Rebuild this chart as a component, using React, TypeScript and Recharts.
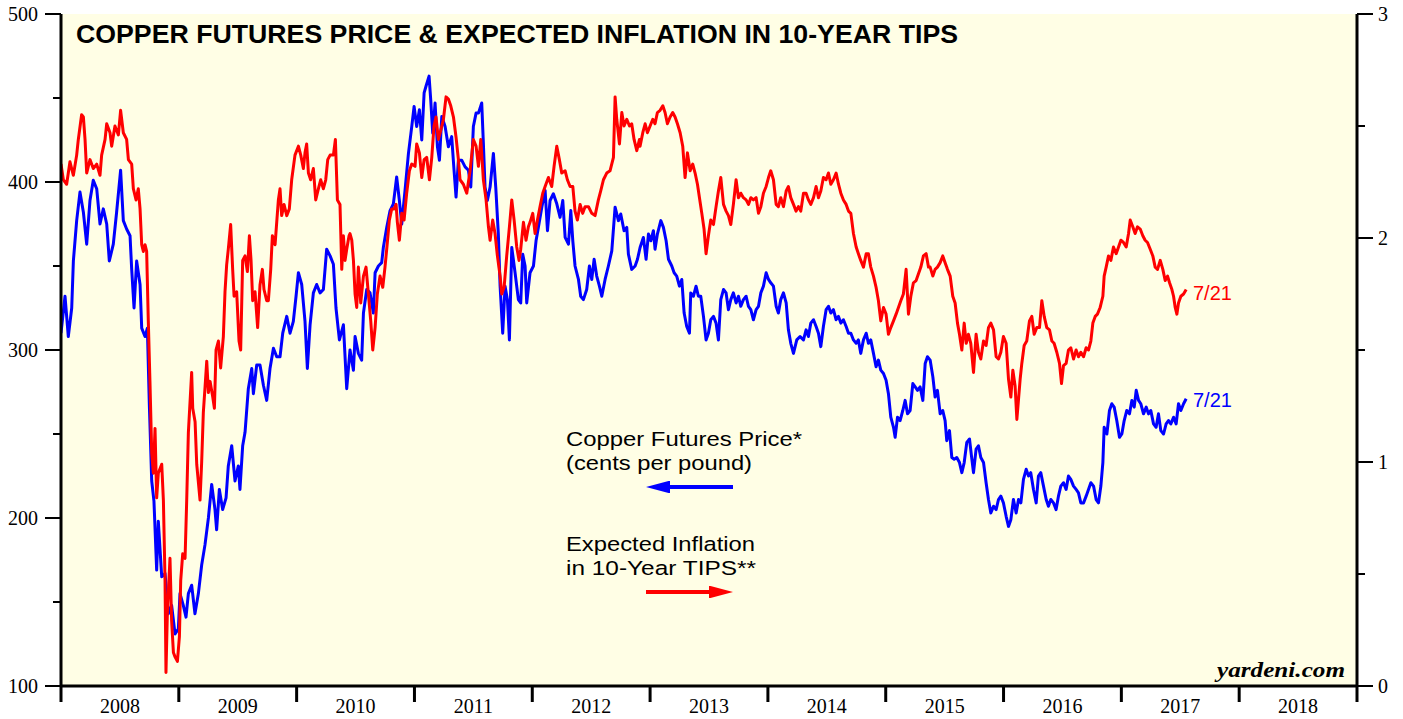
import { LineChart, Line, XAxis, YAxis, CartesianGrid } from 'recharts'

// decimal year, cents per pound
const copper2008 = [
  [2008.000, 310], [2008.034, 332], [2008.062, 308], [2008.091, 325], [2008.105, 353], [2008.133, 377],
  [2008.161, 394], [2008.190, 382], [2008.218, 363], [2008.246, 389], [2008.274, 401], [2008.303, 396],
  [2008.331, 375], [2008.359, 384], [2008.388, 375], [2008.410, 353], [2008.444, 363], [2008.472, 382],
  [2008.506, 407], [2008.529, 377], [2008.557, 372], [2008.586, 368], [2008.600, 348], [2008.620, 325],
  [2008.642, 353], [2008.671, 339], [2008.685, 313], [2008.713, 308], [2008.733, 313], [2008.750, 267],
  [2008.770, 222], [2008.789, 210], [2008.812, 169], [2008.826, 198], [2008.855, 165], [2008.883, 167],
  [2008.911, 143], [2008.939, 148], [2008.968, 131], [2008.996, 134], [2009.010, 155], [2009.038, 148],
  [2009.061, 141], [2009.081, 155], [2009.109, 160], [2009.137, 143], [2009.166, 155], [2009.194, 172],
  [2009.222, 184], [2009.251, 200], [2009.279, 220], [2009.307, 205], [2009.321, 193], [2009.344, 217],
  [2009.372, 205], [2009.401, 212], [2009.420, 231], [2009.449, 243], [2009.477, 222], [2009.505, 231],
  [2009.519, 217], [2009.542, 243], [2009.562, 251], [2009.590, 277], [2009.619, 289], [2009.633, 274],
  [2009.661, 291], [2009.689, 291], [2009.718, 279], [2009.746, 270], [2009.774, 289], [2009.803, 301],
  [2009.831, 296], [2009.859, 296], [2009.882, 310], [2009.916, 320], [2009.944, 310], [2009.972, 317],
  [2009.995, 332], [2010.015, 346], [2010.043, 339], [2010.071, 317], [2010.091, 289], [2010.114, 315],
  [2010.142, 334], [2010.170, 339], [2010.199, 334], [2010.227, 336], [2010.255, 360], [2010.284, 356],
  [2010.312, 351], [2010.334, 325], [2010.363, 306], [2010.397, 315], [2010.425, 277],
]

const copper2010 = [
  [2010.453, 300], [2010.482, 288], [2010.496, 308], [2010.524, 298], [2010.552, 294], [2010.567, 322],
  [2010.595, 336], [2010.623, 334], [2010.651, 322], [2010.666, 346], [2010.694, 350], [2010.722, 352],
  [2010.736, 361], [2010.765, 373], [2010.793, 383], [2010.821, 387], [2010.849, 403], [2010.872, 389],
  [2010.892, 375], [2010.920, 395], [2010.949, 417], [2010.977, 433], [2010.997, 445], [2011.019, 433],
  [2011.042, 443], [2011.062, 425], [2011.082, 453], [2011.098, 457], [2011.124, 463], [2011.138, 449],
  [2011.155, 429], [2011.175, 447], [2011.195, 421], [2011.212, 413], [2011.232, 439], [2011.260, 433],
  [2011.288, 421], [2011.316, 427], [2011.336, 407], [2011.353, 391], [2011.373, 413], [2011.401, 413],
  [2011.430, 409], [2011.458, 407], [2011.478, 397], [2011.500, 433], [2011.523, 441], [2011.543, 441],
  [2011.571, 447], [2011.585, 423], [2011.599, 397], [2011.619, 389], [2011.642, 397], [2011.670, 417],
  [2011.690, 397], [2011.712, 369], [2011.727, 338], [2011.749, 310], [2011.769, 338], [2011.789, 330],
  [2011.806, 306], [2011.826, 361], [2011.854, 346], [2011.882, 330], [2011.902, 328], [2011.919, 357],
  [2011.939, 350], [2011.953, 328], [2011.981, 346], [2012.010, 350], [2012.032, 365], [2012.052, 373],
  [2012.081, 385], [2012.109, 395], [2012.129, 371], [2012.151, 389], [2012.179, 393], [2012.208, 387],
  [2012.236, 379], [2012.259, 389], [2012.279, 367], [2012.307, 363], [2012.327, 383], [2012.344, 365],
  [2012.363, 350], [2012.392, 342], [2012.411, 332], [2012.434, 330], [2012.462, 336], [2012.485, 350],
  [2012.505, 342], [2012.525, 354], [2012.547, 344], [2012.570, 338], [2012.590, 332], [2012.618, 342],
  [2012.646, 350], [2012.675, 359], [2012.703, 385], [2012.731, 377], [2012.751, 381], [2012.779, 371],
  [2012.802, 373], [2012.816, 357], [2012.844, 348], [2012.873, 350], [2012.893, 354],
]

const copper2013 = [
  [2012.915, 361], [2012.943, 367], [2012.966, 354], [2012.986, 369], [2013.006, 365], [2013.028, 371],
  [2013.042, 360], [2013.062, 369], [2013.091, 377], [2013.113, 373], [2013.136, 365], [2013.156, 354],
  [2013.184, 350], [2013.204, 346], [2013.226, 344], [2013.249, 338], [2013.269, 342], [2013.289, 322],
  [2013.311, 314], [2013.334, 310], [2013.345, 334], [2013.368, 332], [2013.390, 338], [2013.410, 332],
  [2013.430, 332], [2013.453, 320], [2013.475, 306], [2013.495, 310], [2013.515, 318], [2013.538, 320],
  [2013.560, 316], [2013.580, 306], [2013.600, 330], [2013.623, 336], [2013.645, 334], [2013.665, 324],
  [2013.685, 330], [2013.707, 334], [2013.730, 328], [2013.750, 332], [2013.770, 326], [2013.792, 330],
  [2013.815, 332], [2013.835, 326], [2013.855, 324], [2013.877, 318], [2013.900, 324], [2013.920, 326],
  [2013.940, 334], [2013.962, 338], [2013.985, 346], [2014.005, 342], [2014.024, 340], [2014.047, 338],
  [2014.070, 326], [2014.089, 322], [2014.109, 330], [2014.132, 334], [2014.155, 328], [2014.174, 312],
  [2014.194, 304], [2014.217, 298], [2014.245, 306], [2014.273, 308], [2014.302, 306], [2014.324, 312],
  [2014.344, 308], [2014.364, 316], [2014.387, 318], [2014.409, 314], [2014.429, 310], [2014.449, 302],
  [2014.471, 314], [2014.494, 324], [2014.514, 326], [2014.534, 322], [2014.556, 324], [2014.579, 318],
  [2014.599, 320], [2014.619, 316], [2014.641, 318], [2014.664, 314], [2014.684, 310], [2014.704, 310],
  [2014.726, 306], [2014.749, 304], [2014.768, 306], [2014.788, 298], [2014.811, 306], [2014.834, 310],
  [2014.853, 304], [2014.873, 306], [2014.896, 298], [2014.918, 290], [2014.938, 294], [2014.958, 288],
  [2014.981, 286], [2015.003, 282], [2015.023, 274], [2015.043, 260], [2015.066, 254], [2015.080, 248],
  [2015.100, 260], [2015.122, 258], [2015.145, 264], [2015.165, 270], [2015.185, 262], [2015.207, 264],
  [2015.230, 280], [2015.250, 278], [2015.270, 276], [2015.292, 278], [2015.315, 270], [2015.335, 292],
  [2015.354, 296],
]

const copper2015 = [
  [2015.377, 294], [2015.400, 284], [2015.419, 272], [2015.439, 276], [2015.462, 262], [2015.484, 264],
  [2015.504, 258], [2015.518, 246], [2015.541, 252], [2015.561, 236], [2015.581, 235], [2015.603, 236],
  [2015.626, 233], [2015.646, 227], [2015.666, 233], [2015.688, 245], [2015.711, 247], [2015.731, 235],
  [2015.745, 227], [2015.767, 241], [2015.787, 243], [2015.807, 236], [2015.830, 233], [2015.852, 221],
  [2015.872, 211], [2015.892, 203], [2015.915, 207], [2015.937, 205], [2015.957, 211], [2015.977, 213],
  [2015.999, 209], [2016.022, 201], [2016.042, 195], [2016.062, 199], [2016.084, 211], [2016.107, 203],
  [2016.127, 211], [2016.147, 209], [2016.169, 223], [2016.192, 229], [2016.212, 225], [2016.231, 227],
  [2016.254, 217], [2016.277, 209], [2016.296, 225], [2016.316, 227], [2016.339, 219], [2016.362, 211],
  [2016.381, 207], [2016.401, 211], [2016.424, 209], [2016.446, 205], [2016.466, 213], [2016.486, 219],
  [2016.509, 221], [2016.531, 217], [2016.551, 225], [2016.571, 223], [2016.594, 219], [2016.616, 217],
  [2016.636, 215], [2016.656, 209], [2016.679, 209], [2016.701, 213], [2016.721, 217], [2016.741, 221],
  [2016.764, 219], [2016.786, 211], [2016.806, 209], [2016.826, 219], [2016.843, 233], [2016.854, 254],
  [2016.877, 250], [2016.899, 264], [2016.919, 268], [2016.939, 266], [2016.961, 258], [2016.984, 248],
  [2017.004, 250], [2017.024, 258], [2017.046, 264], [2017.069, 262], [2017.089, 270], [2017.109, 266],
  [2017.126, 276], [2017.146, 270], [2017.165, 268], [2017.188, 262], [2017.211, 266], [2017.230, 262],
  [2017.250, 264], [2017.273, 256], [2017.295, 254], [2017.315, 262], [2017.335, 252], [2017.358, 250],
  [2017.380, 256], [2017.400, 258], [2017.420, 256], [2017.443, 260], [2017.465, 256], [2017.485, 268],
  [2017.505, 264], [2017.528, 268], [2017.550, 271],
]

// decimal year, percent
const tips2008 = [
  [2008.000, 2.33], [2008.020, 2.26], [2008.048, 2.24], [2008.062, 2.29], [2008.076, 2.34], [2008.105, 2.28],
  [2008.133, 2.37], [2008.147, 2.44], [2008.175, 2.55], [2008.190, 2.54], [2008.204, 2.44], [2008.218, 2.29],
  [2008.246, 2.35], [2008.274, 2.31], [2008.303, 2.33], [2008.331, 2.28], [2008.345, 2.37], [2008.374, 2.44],
  [2008.388, 2.51], [2008.416, 2.47], [2008.430, 2.41], [2008.458, 2.50], [2008.487, 2.46], [2008.506, 2.57],
  [2008.529, 2.47], [2008.557, 2.44], [2008.572, 2.35], [2008.600, 2.33], [2008.614, 2.22], [2008.637, 2.17],
  [2008.656, 2.22], [2008.671, 2.13], [2008.685, 1.97], [2008.699, 1.94], [2008.713, 1.97], [2008.727, 1.94],
  [2008.741, 1.63], [2008.755, 1.36], [2008.770, 1.04], [2008.784, 0.95], [2008.798, 1.15], [2008.812, 0.84],
  [2008.826, 0.95], [2008.840, 0.97], [2008.855, 0.99], [2008.869, 0.83], [2008.883, 0.47], [2008.891, 0.06],
  [2008.903, 0.33], [2008.925, 0.57], [2008.939, 0.29], [2008.954, 0.15], [2008.968, 0.13], [2008.988, 0.11],
  [2009.005, 0.22], [2009.016, 0.47], [2009.033, 0.59], [2009.053, 0.57], [2009.067, 0.83], [2009.081, 1.13],
  [2009.109, 1.40], [2009.118, 1.24], [2009.138, 1.18], [2009.152, 0.99], [2009.180, 0.83], [2009.194, 1.00],
  [2009.208, 1.22], [2009.222, 1.33], [2009.237, 1.45], [2009.251, 1.31], [2009.265, 1.36], [2009.288, 1.29],
  [2009.302, 1.24], [2009.316, 1.50], [2009.336, 1.54], [2009.355, 1.42], [2009.378, 1.56], [2009.392, 1.76],
  [2009.406, 1.88], [2009.420, 1.95], [2009.440, 2.06], [2009.457, 1.86], [2009.469, 1.74], [2009.491, 1.76],
  [2009.511, 1.54], [2009.525, 1.50], [2009.542, 1.90], [2009.562, 1.92], [2009.582, 1.85], [2009.599, 2.01],
  [2009.613, 1.90], [2009.627, 1.72], [2009.647, 1.76], [2009.669, 1.60], [2009.689, 1.79], [2009.709, 1.86],
  [2009.723, 1.77], [2009.746, 1.72], [2009.760, 1.72], [2009.780, 1.86], [2009.794, 2.01], [2009.817, 1.97],
  [2009.845, 2.17], [2009.859, 2.22], [2009.873, 2.10], [2009.893, 2.15], [2009.916, 2.10], [2009.938, 2.13],
  [2009.958, 2.26], [2009.986, 2.37], [2010.015, 2.41], [2010.035, 2.37], [2010.057, 2.31], [2010.071, 2.38],
  [2010.085, 2.42], [2010.100, 2.29], [2010.119, 2.26], [2010.142, 2.31], [2010.162, 2.17], [2010.185, 2.22],
  [2010.204, 2.26], [2010.227, 2.22], [2010.247, 2.26], [2010.264, 2.35], [2010.284, 2.37], [2010.312, 2.37],
  [2010.329, 2.44], [2010.346, 2.17], [2010.368, 2.15], [2010.383, 1.86], [2010.397, 2.01], [2010.411, 1.90],
  [2010.425, 1.95], [2010.445, 2.01],
]

const tips2010 = [
  [2010.453, 2.02], [2010.468, 1.99], [2010.482, 1.90], [2010.496, 1.75], [2010.510, 1.69], [2010.524, 1.87],
  [2010.544, 1.71], [2010.567, 1.83], [2010.589, 1.87], [2010.609, 1.75], [2010.629, 1.63], [2010.646, 1.50],
  [2010.666, 1.60], [2010.685, 1.75], [2010.708, 1.83], [2010.731, 1.78], [2010.750, 1.87], [2010.770, 1.98],
  [2010.787, 2.08], [2010.807, 2.13], [2010.827, 2.13], [2010.844, 2.15], [2010.855, 2.07], [2010.872, 1.99],
  [2010.892, 2.11], [2010.912, 2.08], [2010.934, 2.20], [2010.957, 2.30], [2010.977, 2.33], [2011.005, 2.32],
  [2011.019, 2.42], [2011.042, 2.38], [2011.062, 2.27], [2011.082, 2.35], [2011.104, 2.36], [2011.127, 2.26],
  [2011.147, 2.36], [2011.166, 2.50], [2011.183, 2.54], [2011.203, 2.44], [2011.223, 2.48], [2011.246, 2.53],
  [2011.268, 2.63], [2011.288, 2.62], [2011.308, 2.59], [2011.331, 2.54], [2011.353, 2.45], [2011.373, 2.35],
  [2011.387, 2.26], [2011.415, 2.24], [2011.444, 2.20], [2011.472, 2.30], [2011.500, 2.44], [2011.523, 2.41],
  [2011.543, 2.32], [2011.563, 2.44], [2011.585, 2.26], [2011.608, 2.17], [2011.628, 2.05], [2011.642, 1.99],
  [2011.664, 2.08], [2011.684, 2.02], [2011.704, 1.92], [2011.727, 1.83], [2011.741, 1.75], [2011.761, 1.78],
  [2011.783, 1.92], [2011.806, 2.05], [2011.826, 2.17], [2011.846, 2.08], [2011.868, 1.96], [2011.888, 1.90],
  [2011.902, 1.95], [2011.925, 2.07], [2011.947, 1.99], [2011.967, 2.05], [2011.981, 2.07], [2012.004, 2.11],
  [2012.024, 2.02], [2012.044, 2.08], [2012.066, 2.14], [2012.089, 2.20], [2012.109, 2.23], [2012.137, 2.27],
  [2012.165, 2.23], [2012.185, 2.32], [2012.208, 2.41], [2012.230, 2.35], [2012.250, 2.29], [2012.279, 2.30],
  [2012.298, 2.26], [2012.321, 2.23], [2012.344, 2.23], [2012.363, 2.12], [2012.383, 2.08], [2012.406, 2.15],
  [2012.428, 2.11], [2012.448, 2.14], [2012.477, 2.14], [2012.505, 2.11], [2012.533, 2.10], [2012.561, 2.17],
  [2012.581, 2.21], [2012.604, 2.26], [2012.632, 2.29], [2012.660, 2.30], [2012.689, 2.36], [2012.703, 2.63],
  [2012.717, 2.53], [2012.740, 2.42], [2012.760, 2.56], [2012.779, 2.50], [2012.802, 2.53], [2012.825, 2.50],
  [2012.844, 2.51], [2012.864, 2.44], [2012.887, 2.39], [2012.910, 2.44],
]

const tips2013 = [
  [2012.915, 2.41], [2012.938, 2.47], [2012.958, 2.51], [2012.977, 2.47], [2013.000, 2.50], [2013.023, 2.53],
  [2013.042, 2.51], [2013.062, 2.56], [2013.085, 2.57], [2013.108, 2.59], [2013.127, 2.56], [2013.147, 2.51],
  [2013.170, 2.54], [2013.192, 2.56], [2013.212, 2.54], [2013.232, 2.51], [2013.255, 2.47], [2013.277, 2.41],
  [2013.297, 2.27], [2013.317, 2.38], [2013.340, 2.30], [2013.362, 2.33], [2013.382, 2.29], [2013.402, 2.24],
  [2013.419, 2.18], [2013.439, 2.11], [2013.458, 2.04], [2013.475, 1.93], [2013.495, 2.01], [2013.515, 2.08],
  [2013.538, 2.06], [2013.560, 2.14], [2013.580, 2.21], [2013.600, 2.27], [2013.623, 2.15], [2013.645, 2.12],
  [2013.665, 2.10], [2013.685, 2.06], [2013.707, 2.15], [2013.730, 2.26], [2013.750, 2.18], [2013.770, 2.20],
  [2013.792, 2.18], [2013.815, 2.17], [2013.835, 2.15], [2013.855, 2.18], [2013.877, 2.17], [2013.900, 2.18],
  [2013.920, 2.11], [2013.940, 2.14], [2013.962, 2.20], [2013.985, 2.23], [2014.005, 2.27], [2014.024, 2.30],
  [2014.047, 2.26], [2014.070, 2.15], [2014.089, 2.14], [2014.109, 2.18], [2014.132, 2.14], [2014.155, 2.21],
  [2014.174, 2.23], [2014.194, 2.18], [2014.217, 2.15], [2014.239, 2.12], [2014.259, 2.14], [2014.279, 2.12],
  [2014.302, 2.20], [2014.324, 2.20], [2014.344, 2.17], [2014.364, 2.15], [2014.387, 2.18], [2014.409, 2.23],
  [2014.429, 2.18], [2014.449, 2.21], [2014.471, 2.27], [2014.494, 2.26], [2014.514, 2.29], [2014.534, 2.24],
  [2014.556, 2.26], [2014.579, 2.29], [2014.599, 2.24], [2014.619, 2.20], [2014.641, 2.17], [2014.664, 2.15],
  [2014.684, 2.12], [2014.704, 2.11], [2014.726, 2.02], [2014.749, 1.96], [2014.768, 1.93], [2014.788, 1.90],
  [2014.811, 1.87], [2014.834, 1.93], [2014.853, 1.93], [2014.873, 1.87], [2014.896, 1.83], [2014.918, 1.78],
  [2014.938, 1.72], [2014.958, 1.63], [2014.981, 1.69], [2015.003, 1.66], [2015.023, 1.57], [2015.043, 1.60],
  [2015.066, 1.63], [2015.088, 1.66], [2015.108, 1.69], [2015.128, 1.72], [2015.150, 1.75], [2015.173, 1.86],
  [2015.193, 1.66], [2015.213, 1.74], [2015.235, 1.80], [2015.258, 1.81], [2015.278, 1.84], [2015.298, 1.87],
  [2015.320, 1.92], [2015.343, 1.93], [2015.363, 1.87],
]

const tips2015 = [
  [2015.377, 1.87], [2015.400, 1.83], [2015.419, 1.86], [2015.439, 1.87], [2015.462, 1.89], [2015.484, 1.92],
  [2015.504, 1.89], [2015.524, 1.86], [2015.547, 1.83], [2015.569, 1.74], [2015.589, 1.71], [2015.609, 1.62],
  [2015.626, 1.57], [2015.646, 1.50], [2015.666, 1.62], [2015.683, 1.53], [2015.702, 1.57], [2015.722, 1.53],
  [2015.745, 1.40], [2015.767, 1.57], [2015.787, 1.49], [2015.807, 1.46], [2015.830, 1.54], [2015.852, 1.52],
  [2015.872, 1.60], [2015.892, 1.62], [2015.915, 1.59], [2015.937, 1.47], [2015.957, 1.46], [2015.977, 1.49],
  [2015.999, 1.56], [2016.022, 1.53], [2016.042, 1.37], [2016.062, 1.29], [2016.079, 1.41], [2016.098, 1.34],
  [2016.113, 1.19], [2016.127, 1.28], [2016.141, 1.37], [2016.155, 1.44], [2016.175, 1.52], [2016.197, 1.54],
  [2016.220, 1.63], [2016.240, 1.65], [2016.260, 1.57], [2016.282, 1.60], [2016.305, 1.60], [2016.325, 1.72],
  [2016.345, 1.65], [2016.367, 1.60], [2016.390, 1.59], [2016.410, 1.54], [2016.429, 1.53], [2016.452, 1.49],
  [2016.475, 1.44], [2016.492, 1.35], [2016.509, 1.43], [2016.531, 1.44], [2016.551, 1.50], [2016.571, 1.51],
  [2016.594, 1.46], [2016.616, 1.50], [2016.636, 1.47], [2016.656, 1.49], [2016.679, 1.47], [2016.701, 1.51],
  [2016.721, 1.50], [2016.741, 1.54], [2016.758, 1.62], [2016.778, 1.65], [2016.797, 1.66], [2016.820, 1.69],
  [2016.843, 1.74], [2016.854, 1.83], [2016.871, 1.87], [2016.891, 1.92], [2016.911, 1.90], [2016.933, 1.96],
  [2016.956, 1.93], [2016.976, 1.96], [2016.996, 1.99], [2017.018, 1.98], [2017.041, 1.96], [2017.061, 2.02],
  [2017.075, 2.08], [2017.097, 2.05], [2017.117, 2.02], [2017.137, 2.05], [2017.160, 2.04], [2017.182, 2.01],
  [2017.202, 1.99], [2017.222, 1.98], [2017.245, 1.95], [2017.267, 1.92], [2017.287, 1.87], [2017.307, 1.86],
  [2017.330, 1.90], [2017.352, 1.86], [2017.372, 1.81], [2017.392, 1.83], [2017.409, 1.80], [2017.429, 1.77],
  [2017.443, 1.74], [2017.457, 1.69], [2017.471, 1.66], [2017.485, 1.71], [2017.505, 1.74], [2017.528, 1.75],
  [2017.550, 1.77],
]

const years = [2008, 2009, 2010, 2011, 2012, 2013, 2014, 2015, 2016, 2017, 2018]
const leftTicks = [100, 150, 200, 250, 300, 350, 400, 450, 500]
const rightTicks = [0, 0.5, 1, 1.5, 2, 2.5, 3]

const toRows = (pts: number[][]) => pts.map(([t, v]) => ({ t, v }))
const copperRows = toRows([...copper2008, ...copper2010, ...copper2013, ...copper2015])
const tipsRows = toRows([...tips2008, ...tips2010, ...tips2013, ...tips2015])

// year boundaries get a tick mark, mid-years get the label
const xTicks = [...years.flatMap(y => [y, y + 0.5]), years[years.length - 1] + 1]

const SERIF = '"Liberation Serif", "Times New Roman", serif'
const SANS = '"Liberation Sans", Arial, Helvetica, sans-serif'
const BG = '#FFFEE5'

function YearTick({ x, y, payload }: any) {
  const v = payload.value
  if (Number.isInteger(v)) {
    return <line x1={x} x2={x} y1={y} y2={y + 16} stroke="#000" strokeWidth={3} />
  }
  return (
    <text x={x} y={y + 27} textAnchor="middle" fontFamily={SERIF} fontSize={20} fill="#000">
      {Math.floor(v)}
    </text>
  )
}

function LeftTick({ x, y, payload }: any) {
  const major = payload.value % 100 === 0
  return (
    <g>
      <line x1={x - (major ? 16 : 8)} x2={x} y1={y} y2={y} stroke="#000" strokeWidth={2} />
      {major && (
        <text x={x - 23} y={y + 7} textAnchor="end" fontFamily={SERIF} fontSize={20} fill="#000">
          {payload.value}
        </text>
      )}
    </g>
  )
}

function RightTick({ x, y, payload }: any) {
  const major = Number.isInteger(payload.value)
  return (
    <g>
      <line x1={x} x2={x + (major ? 16 : 8)} y1={y} y2={y} stroke="#000" strokeWidth={2} />
      {major && (
        <text x={x + 21} y={y + 7} textAnchor="start" fontFamily={SERIF} fontSize={20} fill="#000">
          {payload.value}
        </text>
      )}
    </g>
  )
}

const frame = { stroke: '#000', strokeWidth: 3 }

function Note({ y, w, children }: { y: number; w: number; children: string }) {
  return (
    <text x={566} y={y} fontFamily={SANS} fontSize={20.5} textLength={w} lengthAdjust="spacingAndGlyphs" fill="#000">
      {children}
    </text>
  )
}

export default function App() {
  return (
    <div style={{ position: 'absolute', left: 0, top: 0, width: 1403, height: 719, background: '#fff' }}>
      <LineChart width={1403} height={719} margin={{ top: 14, right: 0, bottom: 0, left: 0 }}>
        <CartesianGrid horizontal={false} vertical={false} fill={BG} fillOpacity={1} />
        <XAxis
          dataKey="t"
          type="number"
          domain={[2008, 2019]}
          ticks={xTicks}
          interval={0}
          height={33}
          tickLine={false}
          tickSize={0}
          tickMargin={0}
          axisLine={frame}
          tick={<YearTick />}
          allowDataOverflow
        />
        <XAxis xAxisId="top" orientation="top" type="number" domain={[2008, 2019]} height={0} tick={false} tickLine={false} axisLine={frame} />
        <YAxis
          yAxisId="left"
          domain={[100, 500]}
          ticks={leftTicks}
          interval={0}
          width={61}
          tickLine={false}
          tickSize={0}
          tickMargin={0}
          axisLine={frame}
          tick={<LeftTick />}
        />
        <YAxis
          yAxisId="right"
          orientation="right"
          domain={[0, 3]}
          ticks={rightTicks}
          interval={0}
          width={46}
          tickLine={false}
          tickSize={0}
          tickMargin={0}
          axisLine={frame}
          tick={<RightTick />}
        />
        <Line
          data={copperRows}
          yAxisId="left"
          dataKey="v"
          type="linear"
          stroke="#0000FF"
          strokeWidth={3}
          strokeLinejoin="round"
          dot={false}
          isAnimationActive={false}
        />
        <Line
          data={tipsRows}
          yAxisId="right"
          dataKey="v"
          type="linear"
          stroke="#FF0000"
          strokeWidth={3}
          strokeLinejoin="round"
          dot={false}
          isAnimationActive={false}
        />
      </LineChart>

      <svg width={1403} height={719} style={{ position: 'absolute', left: 0, top: 0, pointerEvents: 'none' }}>
        <defs>
          <marker id="headBlue" markerWidth="6" markerHeight="3.2" refX="0" refY="1.6" orient="auto" markerUnits="strokeWidth">
            <path d="M0,0 L6,1.6 L0,3.2 z" fill="#0000FF" />
          </marker>
          <marker id="headRed" markerWidth="6" markerHeight="3.2" refX="0" refY="1.6" orient="auto" markerUnits="strokeWidth">
            <path d="M0,0 L6,1.6 L0,3.2 z" fill="#FF0000" />
          </marker>
        </defs>
        <text x={76} y={43} fontFamily={SANS} fontWeight="bold" fontSize={25} textLength={882} lengthAdjust="spacingAndGlyphs" fill="#000">
          COPPER FUTURES PRICE &amp; EXPECTED INFLATION IN 10-YEAR TIPS
        </text>

        <Note y={446} w={236}>Copper Futures Price*</Note>
        <Note y={470} w={186}>(cents per pound)</Note>
        <line x1={733} y1={487} x2={670} y2={487} stroke="#0000FF" strokeWidth={4} markerEnd="url(#headBlue)" />

        <Note y={551} w={189}>Expected Inflation</Note>
        <Note y={575} w={190}>in 10-Year TIPS**</Note>
        <line x1={646} y1={592} x2={709} y2={592} stroke="#FF0000" strokeWidth={4} markerEnd="url(#headRed)" />

        <text x={1193} y={300} fontFamily={SANS} fontSize={20} fill="#FF0000">7/21</text>
        <text x={1193} y={407} fontFamily={SANS} fontSize={20} fill="#0000FF">7/21</text>

        <text x={1345} y={677} textAnchor="end" fontFamily={SERIF} fontStyle="italic" fontWeight="bold" fontSize={21} textLength={128} lengthAdjust="spacingAndGlyphs" fill="#000">
          yardeni.com
        </text>
      </svg>
    </div>
  )
}
